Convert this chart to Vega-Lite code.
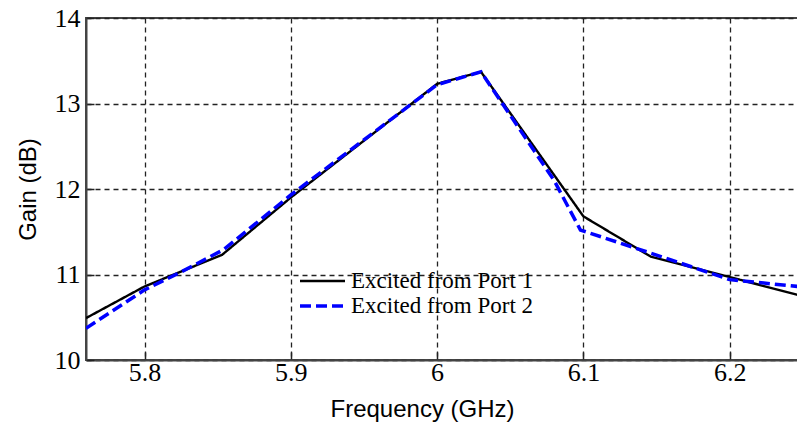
{
  "$schema": "https://vega.github.io/schema/vega-lite/v6.json",
  "width": 712,
  "height": 342,
  "autosize": {"type": "none"},
  "padding": {"left": 86, "top": 18, "right": 0, "bottom": 68},
  "background": "white",
  "config": {
    "view": {"stroke": "#444", "strokeWidth": 2},
    "style": {"guide-label": {"font": "Liberation Serif", "fontSize": 26, "fill": "#000"}},
    "axis": {
      "labelFont": "Liberation Serif",
      "labelFontSize": 26,
      "domainColor": "#444",
      "domainWidth": 2,
      "tickColor": "#222",
      "tickWidth": 1.5,
      "tickSize": -8,
      "grid": true,
      "gridColor": "#222",
      "gridWidth": 1.3,
      "gridDash": [5, 4],
      "gridOpacity": 1
    }
  },
  "data": {
    "values": [
      {"f": 5.76, "g": 10.49, "s": "Excited from Port 1"},
      {"f": 5.80, "g": 10.86, "s": "Excited from Port 1"},
      {"f": 5.853, "g": 11.23, "s": "Excited from Port 1"},
      {"f": 5.90, "g": 11.90, "s": "Excited from Port 1"},
      {"f": 6.00, "g": 13.23, "s": "Excited from Port 1"},
      {"f": 6.03, "g": 13.37, "s": "Excited from Port 1"},
      {"f": 6.10, "g": 11.68, "s": "Excited from Port 1"},
      {"f": 6.146, "g": 11.21, "s": "Excited from Port 1"},
      {"f": 6.20, "g": 10.97, "s": "Excited from Port 1"},
      {"f": 6.2467, "g": 10.76, "s": "Excited from Port 1"},
      {"f": 5.76, "g": 10.37, "s": "Excited from Port 2"},
      {"f": 5.80, "g": 10.82, "s": "Excited from Port 2"},
      {"f": 5.825, "g": 11.03, "s": "Excited from Port 2"},
      {"f": 5.854, "g": 11.29, "s": "Excited from Port 2"},
      {"f": 5.90, "g": 11.93, "s": "Excited from Port 2"},
      {"f": 6.00, "g": 13.22, "s": "Excited from Port 2"},
      {"f": 6.03, "g": 13.37, "s": "Excited from Port 2"},
      {"f": 6.08, "g": 12.10, "s": "Excited from Port 2"},
      {"f": 6.098, "g": 11.52, "s": "Excited from Port 2"},
      {"f": 6.146, "g": 11.25, "s": "Excited from Port 2"},
      {"f": 6.20, "g": 10.94, "s": "Excited from Port 2"},
      {"f": 6.2467, "g": 10.86, "s": "Excited from Port 2"}
    ]
  },
  "mark": {"type": "line", "clip": true},
  "encoding": {
    "x": {
      "field": "f", "type": "quantitative",
      "scale": {"domain": [5.76, 6.2467], "nice": false, "zero": false},
      "axis": {"values": [5.8, 5.9, 6.0, 6.1, 6.2], "format": "~g", "title": "Frequency (GHz)",
        "labelFont": "Liberation Serif", "labelFontSize": 26, "labelColor": "#000",
        "titleFont": "Liberation Sans", "titleFontSize": 24, "titleFontWeight": "normal", "titleColor": "#000",
        "labelPadding": 7, "titlePadding": 12, "titleX": 336}
    },
    "y": {
      "field": "g", "type": "quantitative",
      "scale": {"domain": [10, 14], "nice": false, "zero": false},
      "axis": {"values": [10, 11, 12, 13, 14], "title": "Gain (dB)",
        "labelFont": "Liberation Serif", "labelFontSize": 26, "labelColor": "#000",
        "titleFont": "Liberation Sans", "titleFontSize": 24, "titleFontWeight": "normal", "titleColor": "#000",
        "labelPadding": 14, "titlePadding": 14}
    },
    "color": {
      "field": "s", "type": "nominal",
      "scale": {"domain": ["Excited from Port 1", "Excited from Port 2"], "range": ["#000000", "#0000ff"]},
      "legend": {"title": null, "orient": "none", "legendX": 212, "legendY": 252, "padding": 0,
        "symbolType": "stroke", "symbolSize": 2025, "clipHeight": 22,
        "labelFont": "Liberation Serif", "labelFontSize": 23, "labelColor": "#000", "labelLimit": 400,
        "labelOffset": 4, "rowPadding": 2}
    },
    "strokeDash": {
      "field": "s", "type": "nominal",
      "scale": {"domain": ["Excited from Port 1", "Excited from Port 2"], "range": [[1, 0], [11, 5]]},
      "legend": {"title": null, "orient": "none", "legendX": 212, "legendY": 252, "padding": 0,
        "symbolType": "stroke", "symbolSize": 2025, "clipHeight": 22,
        "labelFont": "Liberation Serif", "labelFontSize": 23, "labelColor": "#000", "labelLimit": 400,
        "labelOffset": 4, "rowPadding": 2}
    },
    "strokeWidth": {
      "field": "s", "type": "nominal",
      "scale": {"domain": ["Excited from Port 1", "Excited from Port 2"], "range": [2.4, 3.5]},
      "legend": {"title": null, "orient": "none", "legendX": 212, "legendY": 252, "padding": 0,
        "symbolType": "stroke", "symbolSize": 2025, "clipHeight": 22,
        "labelFont": "Liberation Serif", "labelFontSize": 23, "labelColor": "#000", "labelLimit": 400,
        "labelOffset": 4, "rowPadding": 2}
    }
  }
}
